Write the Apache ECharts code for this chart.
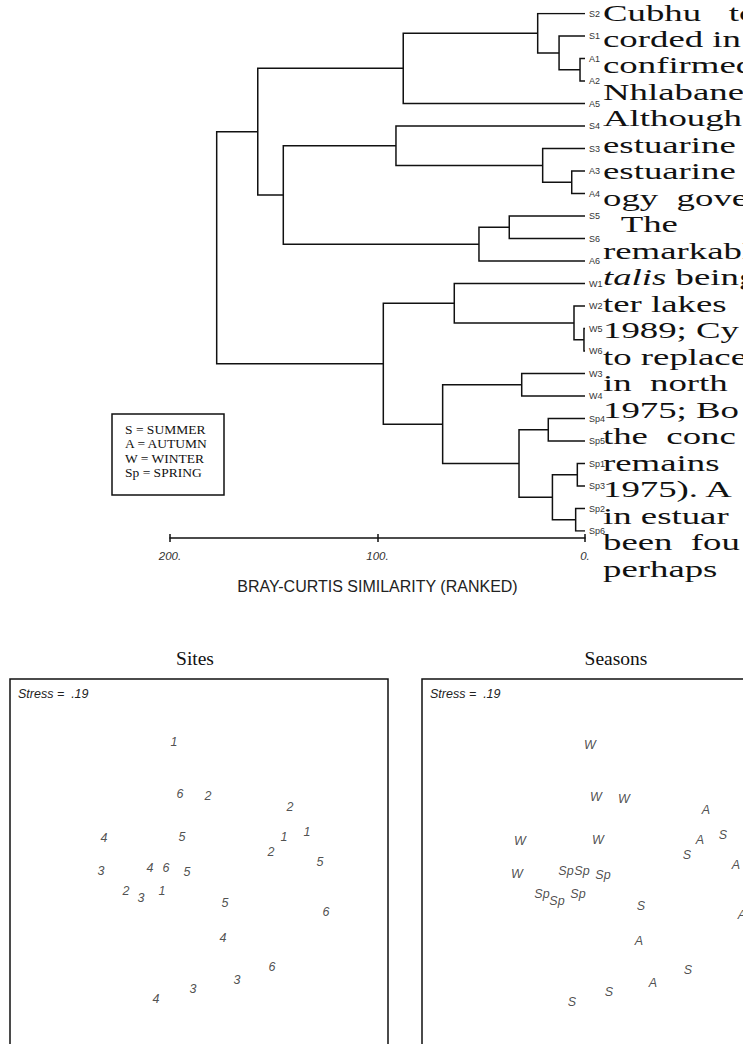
<!DOCTYPE html>
<html>
<head>
<meta charset="utf-8">
<script src="https://cdn.jsdelivr.net/npm/echarts@6/dist/echarts.min.js"></script>
<style>
  html, body { margin: 0; padding: 0; background: #fff; overflow: hidden; }
  #chart { position: absolute; left: 0; top: 0; width: 743px; height: 1044px; }
  #bodytext {
    position: absolute; left: 603px; top: 0.5px; width: 200px;
    font-family: 'Liberation Serif', 'Times New Roman', serif;
    font-size: 23px; line-height: 26.48px; color: #111;
    white-space: pre;
    transform: scaleX(1.6); transform-origin: 0 0;
  }
</style>
</head>
<body>
<div id="chart"></div>
<div id="bodytext">Cubhu   to
corded in
confirmed
Nhlabane
Although
estuarine
estuarine
ogy  gove
  The
remarkabl
<i>talis</i> being
ter lakes
1989; Cy
to replace
in  north
1975; Bo
the  conc
remains
1975). A
in estuar
been  fou
perhaps</div>
<script>
// dendrogram leaves, top to bottom
const leafNames = ['S2', 'S1', 'A1', 'A2', 'A5', 'S4', 'S3', 'A3', 'A4', 'S5', 'S6', 'A6',
  'W1', 'W2', 'W5', 'W6', 'W3', 'W4', 'Sp4', 'Sp5', 'Sp1', 'Sp3', 'Sp2', 'Sp6']

// merges (m0, m1, ... refer to earlier merges)
const mergeLeft = ['A1', 'S1', 'S2', 'm2', 'A3', 'S3', 'S4', 'S5', 'm7', 'm6', 'm3',
  'W5', 'W2', 'W1', 'W3', 'Sp4', 'Sp1', 'Sp2', 'm16', 'm15', 'm14', 'm13', 'm10']
const mergeRight = ['A2', 'm0', 'm1', 'A5', 'A4', 'm4', 'm5', 'S6', 'A6', 'm8', 'm9',
  'W6', 'm11', 'm12', 'W4', 'Sp5', 'Sp3', 'Sp6', 'm17', 'm18', 'm19', 'm20', 'm21']
const mergeHeight = [2.4, 12.5, 22.8, 87.6, 6.4, 20.4, 91.1, 36.5, 51.1, 145.4, 157.7,
  0.5, 5.3, 63.0, 30.5, 17.7, 3.7, 4.5, 15.7, 31.8, 68.6, 97.2, 177.5]

const simTicks = [200, 100, 0]

// MDS ordination (same configuration in both panels)
const mdsX = [-0.26, -0.20, 0.08, 0.90, -0.96, -0.18, 0.84, 1.07, 0.71, 1.20, -0.99, -0.50,
  -0.34, -0.13, -0.74, -0.59, -0.38, 0.25, 1.26, 0.23, 0.72, 0.37, -0.07, -0.44]
const mdsY = [1.28, 0.76, 0.74, 0.63, 0.32, 0.33, 0.33, 0.38, 0.18, 0.08, -0.01, 0.02,
  0.02, -0.02, -0.21, -0.28, -0.21, -0.33, -0.42, -0.68, -0.97, -1.10, -1.19, -1.29]
const siteLabels = ['1', '6', '2', '2', '4', '5', '1', '1', '2', '5', '3', '4',
  '6', '5', '2', '3', '1', '5', '6', '4', '6', '3', '3', '4']
const seasonLabels = ['W', 'W', 'W', 'A', 'W', 'W', 'A', 'S', 'S', 'A', 'W', 'Sp',
  'Sp', 'Sp', 'Sp', 'Sp', 'Sp', 'S', 'A', 'A', 'S', 'A', 'S', 'S']

const legendLines = ['S = SUMMER', 'A = AUTUMN', 'W = WINTER', 'Sp = SPRING']
const stressText = 'Stress =  .19'

// build dendrogram brackets
const nodePos = {}
leafNames.forEach((n, i) => { nodePos[n] = { h: 0, y: i } })
const brackets = []
mergeHeight.forEach((h, i) => {
  const a = nodePos[mergeLeft[i]]
  const b = nodePos[mergeRight[i]]
  brackets.push({ coords: [[a.h, a.y], [h, a.y], [h, b.y], [b.h, b.y]] })
  nodePos['m' + i] = { h: h, y: (a.y + b.y) / 2 }
})

const ink = '#111'
const sans = 'Liberation Sans'
const serif = 'Liberation Serif'

const hiddenAxis = (min, max, grid) => ({
  gridIndex: grid, type: 'value', min: min, max: max, show: false,
  splitLine: { show: false }
})

const chart = echarts.init(document.getElementById('chart'), null, { renderer: 'svg' })

chart.setOption({
  animation: false,
  grid: [
    { left: 170, top: 13.5, width: 415, height: 517.5, outerBoundsMode: 'none' },
    { left: 10, top: 679, width: 378, height: 365, outerBoundsMode: 'none' },
    { left: 426, top: 682, width: 378, height: 365, outerBoundsMode: 'none' }
  ],
  xAxis: [
    {
      gridIndex: 0, type: 'value', inverse: true, min: 0, max: 200, interval: 100,
      position: 'bottom', offset: 7,
      axisLine: { show: true, onZero: false, lineStyle: { color: ink, width: 1.5 } },
      axisTick: { show: true, length: 4, lineStyle: { color: ink, width: 1.5 } },
      axisLabel: {
        margin: 12, fontFamily: sans, fontStyle: 'italic', fontSize: 11.5, color: '#333',
        formatter: v => simTicks.includes(v) ? v + '.' : ''
      },
      splitLine: { show: false },
      name: 'BRAY-CURTIS SIMILARITY (RANKED)', nameLocation: 'middle', nameGap: 40,
      nameTextStyle: { fontFamily: sans, fontSize: 16, color: '#222' }
    },
    {
      gridIndex: 0, type: 'value', inverse: true, min: 0, max: 200, interval: 100,
      position: 'bottom', offset: 7,
      axisLine: { show: false, onZero: false },
      axisTick: { show: true, inside: true, length: 4, lineStyle: { color: ink, width: 1.5 } },
      axisLabel: { show: false },
      splitLine: { show: false }
    },
    hiddenAxis(-1.9, 1.88, 1),
    hiddenAxis(-1.9, 1.88, 2)
  ],
  yAxis: [
    {
      gridIndex: 0, type: 'value', inverse: true, min: 0, max: leafNames.length - 1, interval: 1,
      position: 'right',
      axisLine: { show: false }, axisTick: { show: false }, splitLine: { show: false },
      axisLabel: {
        margin: 4, fontFamily: sans, fontSize: 9, color: '#333',
        formatter: v => leafNames[v] || ''
      }
    },
    hiddenAxis(-1.74, 1.91, 1),
    hiddenAxis(-1.74, 1.91, 2)
  ],
  series: [
    {
      type: 'lines', coordinateSystem: 'cartesian2d', xAxisIndex: 0, yAxisIndex: 0,
      polyline: true, silent: true,
      lineStyle: { color: ink, width: 1.5, opacity: 1 },
      data: brackets
    },
    {
      type: 'scatter', xAxisIndex: 2, yAxisIndex: 1, symbolSize: 0, silent: true,
      data: mdsX.map((x, i) => ({ value: [x, mdsY[i]], name: siteLabels[i] })),
      label: {
        show: true, position: 'inside', formatter: p => p.name,
        fontFamily: sans, fontStyle: 'italic', fontSize: 12.5, color: '#222'
      }
    },
    {
      type: 'scatter', xAxisIndex: 3, yAxisIndex: 2, symbolSize: 0, silent: true,
      data: mdsX.map((x, i) => ({ value: [x, mdsY[i]], name: seasonLabels[i] })),
      label: {
        show: true, position: 'inside', formatter: p => p.name,
        fontFamily: sans, fontStyle: 'italic', fontSize: 12.5, color: '#222'
      }
    }
  ],
  graphic: [
    // season legend box
    {
      type: 'rect', shape: { x: 112, y: 414, width: 112, height: 81 },
      style: { fill: '#fff', stroke: ink, lineWidth: 1.5 }
    },
    ...legendLines.map((t, i) => ({
      type: 'text', x: 125, y: 429 + i * 14.6,
      style: { text: t, font: '13.5px ' + serif, fill: '#111', verticalAlign: 'middle' }
    })),
    // MDS panel frames
    {
      type: 'rect', shape: { x: 10, y: 679, width: 378, height: 420 },
      style: { fill: 'none', stroke: ink, lineWidth: 1.5 }
    },
    {
      type: 'rect', shape: { x: 422, y: 679, width: 400, height: 420 },
      style: { fill: 'none', stroke: ink, lineWidth: 1.5 }
    },
    {
      type: 'text', x: 195, y: 658,
      style: { text: 'Sites', font: '19.5px ' + serif, fill: '#111', align: 'center', verticalAlign: 'middle' }
    },
    {
      type: 'text', x: 616, y: 658,
      style: { text: 'Seasons', font: '19.5px ' + serif, fill: '#111', align: 'center', verticalAlign: 'middle' }
    },
    {
      type: 'text', x: 18, y: 694,
      style: { text: stressText, font: 'italic 12.5px ' + sans, fill: '#222', verticalAlign: 'middle' }
    },
    {
      type: 'text', x: 430, y: 694,
      style: { text: stressText, font: 'italic 12.5px ' + sans, fill: '#222', verticalAlign: 'middle' }
    }
  ]
})
</script>
</body>
</html>
